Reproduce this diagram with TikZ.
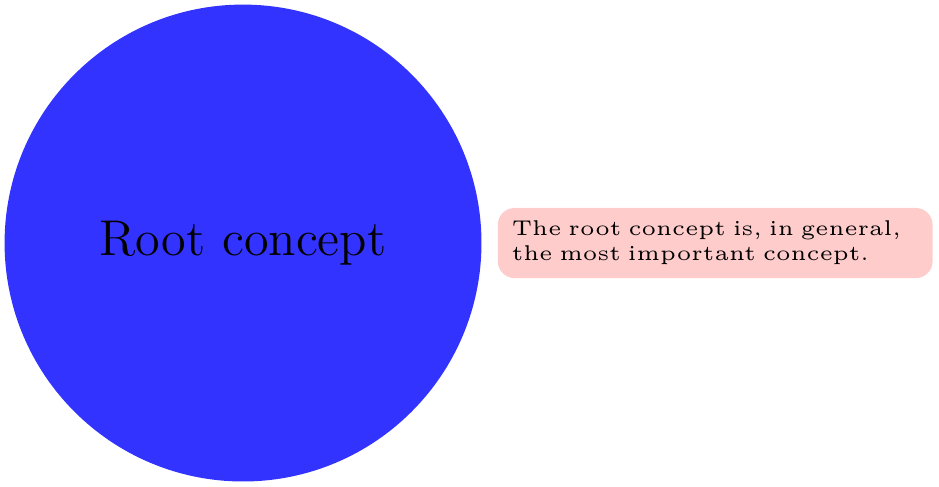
\documentclass[tikz,border=0pt]{standalone}
\begin{document}
\begin{tikzpicture}[
  rootconcept/.style={circle, fill=blue!80, inner sep=0pt, minimum size=4cm, font=\large, text=black},
  annot/.style={fill=red!20, rounded corners, inner xsep=3.33pt, inner ysep=3.1pt, text width=97.1pt, align=left, font=\fontsize{5.1pt}{6pt}\selectfont, anchor=west}
]
\useasboundingbox (-58pt,-58pt) rectangle (166.1pt,58pt);
\node[rootconcept] (root) at (0,0) {Root concept};
\node[annot] (note) at ([xshift=3.5pt]root.east) {The root concept is, in general, the most important concept.};
\end{tikzpicture}
\end{document}
